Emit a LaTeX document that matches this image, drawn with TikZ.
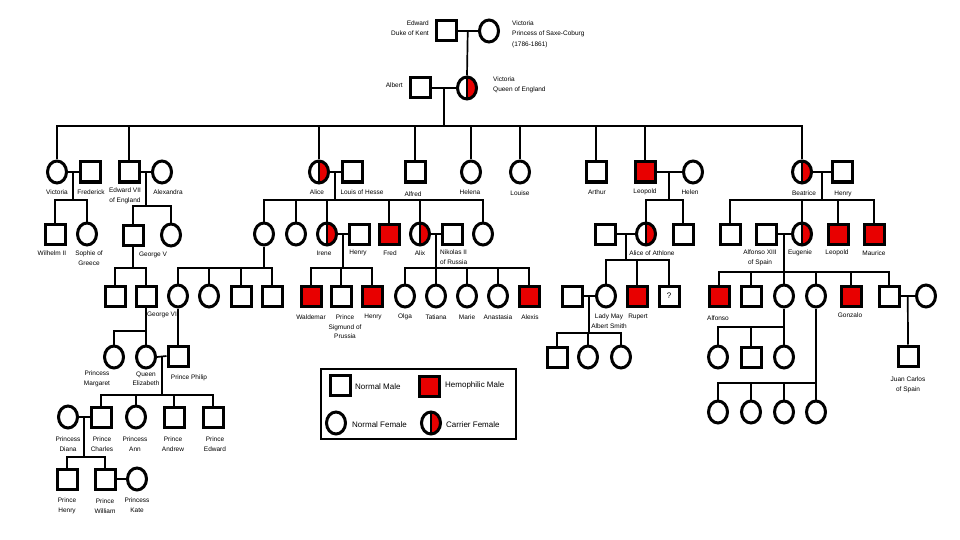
\documentclass[tikz,border=0pt]{standalone}
\usepackage{fontspec}
\setmainfont{Liberation Sans}
\usetikzlibrary{shapes.geometric,calc}
\definecolor{hred}{RGB}{232,0,0}
\tikzset{
  male/.style={rectangle,draw=black,line width=3pt,minimum size=20pt,inner sep=0pt,fill=white},
  hemo/.style={male,fill=hred},
  female/.style={ellipse,draw=black,line width=3pt,minimum width=19pt,minimum height=22pt,inner sep=0pt,fill=white},
  carrier/.style={female,path picture={
     \fill[hred] (path picture bounding box.north) rectangle (path picture bounding box.south east);
     \draw[line width=1.3pt] (path picture bounding box.north) -- (path picture bounding box.south);}},
  lab/.style={font=\fontsize{6.5}{9.5}\selectfont,align=center,inner sep=0pt},
  leg/.style={font=\fontsize{8}{10}\selectfont,inner sep=0pt,anchor=west},
  con/.style={line width=1.7pt,line join=miter},
}
\begin{document}
\begin{tikzpicture}[x=1pt,y=-1pt]
\useasboundingbox[fill=white] (0,0) rectangle (960,540);

% ---------- generation 0 / 1 ----------
\node[male]    (edward) at (446,31) {};
\node[female]  (vsc)    at (489,31) {};
\node[male]    (albert) at (420,88) {};
\node[carrier] (vq)     at (467,88) {};

% ---------- generation 2 ----------
\node[female]  (victoria)  at (57,172) {};
\node[male]    (frederick) at (90,172) {};
\node[male]    (edw7)      at (129,172) {};
\node[female]  (alexandra) at (162,172) {};
\node[carrier] (alice)     at (319,172) {};
\node[male]    (louis)     at (352,172) {};
\node[male]    (alfred)    at (415,172) {};
\node[female]  (helena)    at (471,172) {};
\node[female]  (louise)    at (520,172) {};
\node[male]    (arthur)    at (596,172) {};
\node[hemo]    (leopold)   at (645,172) {};
\node[female]  (helen)     at (693,172) {};
\node[carrier] (beatrice)  at (802,172) {};
\node[male]    (henry)     at (842,172) {};

% ---------- generation 3 ----------
\node[male]    (wilhelm)  at (55,234) {};
\node[female]  (sophie)   at (87,234) {};
\node[male]    (george5)  at (133,235) {};
\node[female]  (mary)     at (171,235) {};
\node[female]  (vhesse)   at (264,234) {};
\node[female]  (ella)     at (296,234) {};
\node[carrier] (irene)    at (327,234) {};
\node[male]    (henryp)   at (359,234) {};
\node[hemo]    (fred)     at (389,234) {};
\node[carrier] (alix)     at (420,234) {};
\node[male]    (nikolas)  at (452,234) {};
\node[female]  (alicel)   at (483,234) {};
\node[male]    (athhusb)  at (605,234) {};
\node[carrier] (alicea)   at (646,234) {};
\node[male]    (charlesa) at (683,234) {};
\node[male]    (alexb)    at (730,234) {};
\node[male]    (alfonso)  at (766,234) {};
\node[carrier] (eugenie)  at (802,234) {};
\node[hemo]    (leopoldb) at (838,234) {};
\node[hemo]    (maurice)  at (874,234) {};

% ---------- generation 4 ----------
\node[male]    (g5a)      at (115,296) {};
\node[male]    (george6)  at (146,296) {};
\node[female]  (vh1)      at (178,296) {};
\node[female]  (vh2)      at (209,296) {};
\node[male]    (vh3)      at (241,296) {};
\node[male]    (vh4)      at (272,296) {};
\node[hemo]    (waldemar) at (311,296) {};
\node[male]    (sigmund)  at (341,296) {};
\node[hemo]    (henryh)   at (372,296) {};
\node[female]  (olga)     at (405,296) {};
\node[female]  (tatiana)  at (436,296) {};
\node[female]  (marie)    at (467,296) {};
\node[female]  (anastasia) at (498,296) {};
\node[hemo]    (alexis)   at (529,296) {};
\node[male]    (mayhusb)  at (572,296) {};
\node[female]  (ladymay)  at (606,296) {};
\node[hemo]    (rupert)   at (637,296) {};
\node[male,font=\fontsize{8}{10}\selectfont] (unknown) at (669,296) {?};
\node[hemo]    (alfonsos) at (719,296) {};
\node[male]    (jaime)    at (751,296) {};
\node[female]  (beatriz)  at (784,296) {};
\node[female]  (maria)    at (816,296) {};
\node[hemo]    (gonzalo)  at (851,296) {};
\node[male]    (juan)     at (889,296) {};
\node[female]  (juanw)    at (926,296) {};

% ---------- generation 5 ----------
\node[female]  (margaret)  at (114,357) {};
\node[female]  (elizabeth) at (146,357) {};
\node[male]    (philip)    at (178,356) {};
\node[male]    (lm1)       at (557,357) {};
\node[female]  (lm2)       at (588,357) {};
\node[female]  (lm3)       at (621,357) {};
\node[female]  (b1)        at (718,357) {};
\node[male]    (b2)        at (751,357) {};
\node[female]  (b3)        at (784,357) {};
\node[male]    (jc)        at (908,356) {};

% ---------- generation 6 / 7 ----------
\node[female]  (diana)   at (68,417) {};
\node[male]    (charles) at (101,417) {};
\node[female]  (anne)    at (136,417) {};
\node[male]    (andrew)  at (174,417) {};
\node[male]    (edwardp) at (213,417) {};
\node[female]  (m1)      at (718,412) {};
\node[female]  (m2)      at (751,412) {};
\node[female]  (m3)      at (784,412) {};
\node[female]  (m4)      at (816,412) {};
\node[male]    (harry)   at (67,479) {};
\node[male]    (william) at (105,479) {};
\node[female]  (kate)    at (137,479) {};

% ---------- marriages ----------
\foreach \a/\b/\m in {edward/vsc/mEV, albert/vq/mAV, victoria/frederick/mVF, edw7/alexandra/mEA,
  alice/louis/mAL, leopold/helen/mLH, beatrice/henry/mBH, irene/henryp/mIH, alix/nikolas/mAN,
  athhusb/alicea/mAA, alfonso/eugenie/mAE, mayhusb/ladymay/mML, juan/juanw/mJW,
  elizabeth/philip/mEP, diana/charles/mDC, william/kate/mWK}{
  \draw[con] (\a.east) -- (\b.west);
  \coordinate (\m) at ($(\a.east)!0.5!(\b.west)$);
}

% ---------- junctions on sibling lines ----------
\coordinate (j0)  at (mAV |- 0,126);
\coordinate (jVF) at (mVF |- 0,200);
\coordinate (jEA) at (mEA |- 0,206);
\coordinate (jAL) at (mAL |- 0,200);
\coordinate (jLH) at (mLH |- 0,200);
\coordinate (jBH) at (mBH |- 0,200);
\coordinate (jG5) at (george5.south |- 0,268);
\coordinate (jVH) at (vhesse.south |- 0,268);
\coordinate (jIH) at (mIH |- 0,268);
\coordinate (jAN) at (mAN |- 0,268);
\coordinate (jAA) at (mAA |- 0,260);
\coordinate (jAE) at (mAE |- 0,272);
\coordinate (jG6) at (george6.south |- 0,331);
\coordinate (jML) at (mML |- 0,333);
\coordinate (jBS) at (beatriz.south |- 0,327);
\coordinate (jEP) at (mEP |- 0,395);
\coordinate (jMS) at (maria.south |- 0,383);
\coordinate (jDC) at (mDC |- 0,457);

% ---------- descent lines ----------
\draw[con] (mEV) -- (vq.north);
\draw[con] (mAV) -- (j0);
\foreach \c in {victoria,edw7,alice,alfred,helena,louise,arthur,leopold,beatrice} \draw[con] (\c.north) |- (j0);
\draw[con] (mVF) -- (jVF);
\foreach \c in {wilhelm,sophie} \draw[con] (\c.north) |- (jVF);
\draw[con] (mEA) -- (jEA);
\foreach \c in {george5,mary} \draw[con] (\c.north) |- (jEA);
\draw[con] (mAL) -- (jAL);
\foreach \c in {vhesse,ella,irene,fred,alix,alicel} \draw[con] (\c.north) |- (jAL);
\draw[con] (mLH) -- (jLH);
\foreach \c in {alicea,charlesa} \draw[con] (\c.north) |- (jLH);
\draw[con] (mBH) -- (jBH);
\foreach \c in {alexb,eugenie,leopoldb,maurice} \draw[con] (\c.north) |- (jBH);
\draw[con] (george5.south) -- (jG5);
\foreach \c in {g5a,george6} \draw[con] (\c.north) |- (jG5);
\draw[con] (vhesse.south) -- (jVH);
\foreach \c in {vh1,vh2,vh3,vh4} \draw[con] (\c.north) |- (jVH);
\draw[con] (mIH) -- (jIH);
\foreach \c in {waldemar,sigmund,henryh} \draw[con] (\c.north) |- (jIH);
\draw[con] (mAN) -- (jAN);
\foreach \c in {olga,tatiana,marie,anastasia,alexis} \draw[con] (\c.north) |- (jAN);
\draw[con] (mAA) -- (jAA);
\foreach \c in {ladymay,rupert,unknown} \draw[con] (\c.north) |- (jAA);
\draw[con] (mAE) -- (jAE);
\foreach \c in {alfonsos,jaime,beatriz,maria,gonzalo,juan} \draw[con] (\c.north) |- (jAE);
\draw[con] (george6.south) -- (elizabeth.north);
\draw[con] (margaret.north) |- (jG6);
\draw[con] (vh1.south) -- (philip.north);
\draw[con] (mML) -- (jML);
\foreach \c in {lm1,lm2,lm3} \draw[con] (\c.north) |- (jML);
\draw[con] (beatriz.south) -- (b3.north);
\foreach \c in {b1,b2} \draw[con] (\c.north) |- (jBS);
\draw[con] (mJW) -- (jc.north);
\draw[con] (mEP) -- (jEP);
\foreach \c in {charles,anne,andrew,edwardp} \draw[con] (\c.north) |- (jEP);
\draw[con] (maria.south) -- (m4.north);
\foreach \c in {m1,m2,m3} \draw[con] (\c.north) |- (jMS);
\draw[con] (mDC) -- (jDC);
\foreach \c in {harry,william} \draw[con] (\c.north) |- (jDC);

% ---------- labels ----------
\node[lab,align=right,anchor=east] (tEdward) at (429,28) {Edward\\Duke of Kent};
\node[lab,align=left,anchor=west,font=\fontsize{6.5}{10.5}\selectfont] (tVsc) at (512,34) {Victoria\\Princess of Saxe-Coburg\\(1786-1861)};
\node[lab,anchor=east] (tAlbert) at (403,85) {Albert};
\node[lab,align=left,anchor=west] (tVq) at (493,85) {Victoria\\Queen of England};

\node[lab] (tVictoria)  at (57,192) {Victoria};
\node[lab] (tFrederick) at (91,192) {Frederick};
\node[lab] (tEdw7)      at (125,196) {Edward VII\\of England};
\node[lab] (tAlexandra) at (168,192) {Alexandra};
\node[lab] (tAlice)     at (317,192) {Alice};
\node[lab] (tLouis)     at (362,192) {Louis of Hesse};
\node[lab] (tAlfred)    at (413,194) {Alfred};
\node[lab] (tHelena)    at (470,192) {Helena};
\node[lab] (tLouise)    at (520,193) {Louise};
\node[lab] (tArthur)    at (597,192) {Arthur};
\node[lab] (tLeopold)   at (645,192) {Leopold};
\node[lab] (tHelen)     at (690,192) {Helen};
\node[lab] (tBeatrice)  at (804,193) {Beatrice};
\node[lab] (tHenry)     at (843,194) {Henry};

\node[lab] (tWilhelm)  at (52,253) {Wilhelm II};
\node[lab] (tSophie)   at (89,258) {Sophie of\\Greece};
\node[lab] (tGeorge5)  at (153,255) {George V};
\node[lab] (tIrene)    at (324,253) {Irene};
\node[lab] (tHenryp)   at (358,253) {Henry};
\node[lab] (tFred)     at (390,253) {Fred};
\node[lab] (tAlix)     at (420,253) {Alix};
\node[lab,align=left,anchor=west] (tNikolas) at (440,257) {Nikolas II\\of Russia};
\node[lab] (tAlicea)   at (652,253) {Alice of Athlone};
\node[lab] (tAlfonso)  at (760,258) {Alfonso XIII\\of Spain};
\node[lab] (tEugenie)  at (800,253) {Eugenie};
\node[lab] (tLeopoldb) at (837,253) {Leopold};
\node[lab] (tMaurice)  at (874,253) {Maurice};

\node[lab] (tGeorge6)  at (162,315) {George VI};
\node[lab] (tWaldemar) at (311,317) {Waldemar};
\node[lab] (tSigmund)  at (345,327) {Prince\\Sigmund of\\Prussia};
\node[lab] (tHenryh)   at (373,317) {Henry};
\node[lab] (tOlga)     at (405,317) {Olga};
\node[lab] (tTatiana)  at (436,317) {Tatiana};
\node[lab] (tMarie)    at (467,317) {Marie};
\node[lab] (tAnastasia) at (498,317) {Anastasia};
\node[lab] (tAlexis)   at (530,317) {Alexis};
\node[lab] (tLadymay)  at (609,321) {Lady May\\Albert Smith};
\node[lab] (tRupert)   at (638,317) {Rupert};
\node[lab] (tAlfonsos) at (718,318) {Alfonso};
\node[lab] (tGonzalo)  at (850,315) {Gonzalo};

\node[lab] (tMargaret)  at (97,379) {Princess\\Margaret};
\node[lab] (tElizabeth) at (146,379) {Queen\\Elizabeth};
\node[lab] (tPhilip)    at (189,378) {Prince Philip};
\node[lab] (tJc)        at (908,385) {Juan Carlos\\of Spain};

\node[lab] (tDiana)   at (68,444) {Princess\\Diana};
\node[lab] (tCharles) at (102,444) {Prince\\Charles};
\node[lab] (tAnne)    at (135,444) {Princess\\Ann};
\node[lab] (tAndrew)  at (173,444) {Prince\\Andrew};
\node[lab] (tEdwardp) at (215,444) {Prince\\Edward};
\node[lab] (tHarry)   at (67,506) {Prince\\Henry};
\node[lab] (tWilliam) at (105,506) {Prince\\William};
\node[lab] (tKate)    at (137,505) {Princess\\Kate};

% ---------- legend ----------
\node[draw=black,line width=1.8pt,minimum width=195pt,minimum height=70pt,inner sep=0pt,anchor=north west] (legend) at (320,368) {};
\node[male]    (lgm) at (340,385) {};
\node[hemo]    (lgh) at (429,386) {};
\node[female]  (lgf) at (336,423) {};
\node[carrier] (lgc) at (431,423) {};
\node[leg] (tlgm) at (355,387) {Normal Male};
\node[leg] (tlgh) at (445,385) {Hemophilic Male};
\node[leg] (tlgf) at (352,425) {Normal Female};
\node[leg] (tlgc) at (446,425) {Carrier Female};
\end{tikzpicture}
\end{document}
